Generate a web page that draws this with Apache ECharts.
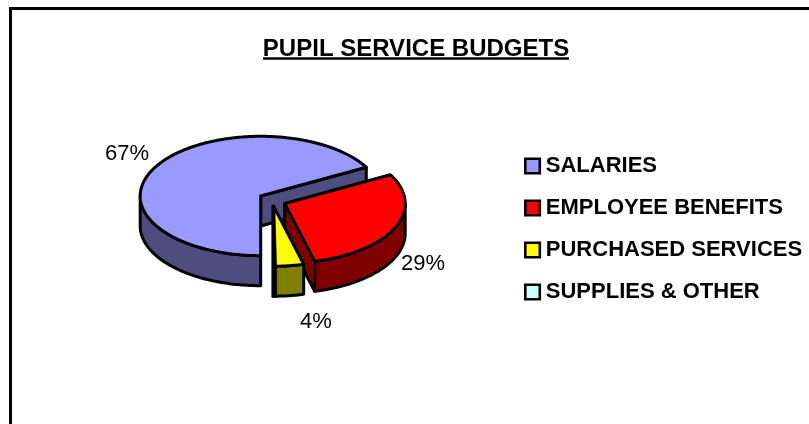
<!DOCTYPE html>
<html><head><meta charset="utf-8">
<style>html,body{margin:0;padding:0;background:#fff}#c{width:809px;height:424px}</style>
<script src="https://cdn.jsdelivr.net/npm/echarts@6/dist/echarts.min.js"></script>
</head><body><div id="c"></div>
<script>
const titleText = 'PUPIL SERVICE BUDGETS';
const categories = ['SALARIES', 'EMPLOYEE BENEFITS', 'PURCHASED SERVICES', 'SUPPLIES & OTHER'];
const values = [67, 29, 4, 0];
const topColors = ['#9999FF', '#FF0000', '#FFFF00', '#CCFFFF'];
const wallColors = ['#4D4D80', '#800000', '#808000', '#668080'];
const explodeX = [0, 24, 13, 0];
const explodeY = [0, 7.5, 10.5, 0];
const labelX = [127, 423, 316, 0];
const labelY = [153.5, 263.5, 321.5, 0];

const cx = 260.7, cy = 196, rx = 120.5, ry = 59.7, depth = 30, startDeg = 180, lw = 3;
const total = values.reduce((a, b) => a + b, 0);

function pt(ox, oy, deg, dy) {
  const a = deg * Math.PI / 180;
  return [ox + rx * Math.sin(a), oy - ry * Math.cos(a) + (dy || 0)];
}
function arcPts(ox, oy, d0, d1, dy) {
  const pts = [], n = Math.max(2, Math.ceil(Math.abs(d1 - d0)));
  for (let i = 0; i <= n; i++) pts.push(pt(ox, oy, d0 + (d1 - d0) * i / n, dy));
  return pts;
}
function poly(points, fill, z) {
  return { type: 'polygon', z2: z, shape: { points },
    style: { fill, stroke: '#000', lineWidth: lw, lineJoin: 'round' } };
}
function sliceRender(idx) {
  return function (params, api) {
    const v = api.value(0);
    if (!v) return { type: 'group', children: [] };
    let before = 0;
    for (let i = 0; i < idx; i++) before += values[i];
    const d0 = startDeg + before / total * 360;
    const d1 = d0 + v / total * 360;
    const ox = cx + explodeX[idx], oy = cy + explodeY[idx];
    const kids = [];
    const apex = [ox, oy], apexD = [ox, oy + depth];
    const endNorm = ((d1 % 360) + 360) % 360;
    // inner face on the clockwise end of the slice, when it faces the viewer
    if (endNorm > 0 && endNorm < 180) {
      kids.push(poly([apex, pt(ox, oy, d1), pt(ox, oy, d1, depth), apexD], wallColors[idx], 1));
    }
    // outer wall: only the part that faces the viewer
    for (const off of [0, 360]) {
      const a0 = Math.max(d0, 90 + off), a1 = Math.min(d1, 270 + off);
      if (a1 > a0) {
        kids.push(poly(arcPts(ox, oy, a0, a1, 0).concat(arcPts(ox, oy, a1, a0, depth)), wallColors[idx], 2));
      }
    }
    // top face
    kids.push(poly([apex].concat(arcPts(ox, oy, d0, d1, 0)), topColors[idx], 3));
    // inner face that ends at the front of the ellipse is seen almost edge-on, as a black strip
    if (Math.abs(endNorm - 180) < 0.01 && idx > 0) {
      const b = pt(ox, oy, d1, depth);
      kids.push({ type: 'polygon', z2: 4, shape: { points: [
        [ox - 2, oy - 1.5], [ox + 1, oy - 1.5], [b[0] + 3, b[1] - depth], [b[0] + 3, b[1] + 1], [b[0] - 2, b[1] + 1]] },
        style: { fill: '#000', stroke: '#000', lineWidth: 0.5 } });
    }
    kids.push({ type: 'text', z2: 5, x: labelX[idx], y: labelY[idx],
      style: { text: Math.round(v / total * 100) + '%', fill: '#000', align: 'center', verticalAlign: 'middle',
        font: '22px "Liberation Sans", Arial, sans-serif' } });
    return { type: 'group', children: kids };
  };
}

const chart = echarts.init(document.getElementById('c'), null, { renderer: 'canvas' });
chart.setOption({
  animation: false,
  backgroundColor: '#fff',
  title: { text: titleText, left: 411, top: 32, textAlign: 'center',
    textStyle: { fontFamily: '"Liberation Sans", Arial, sans-serif', fontSize: 24, fontWeight: 'bold', color: '#000' } },
  legend: { left: 519, top: 150, orient: 'vertical', itemWidth: 14.5, itemHeight: 14.5, itemGap: 20, icon: 'rect',
    data: categories, selectedMode: false,
    itemStyle: { borderColor: '#000', borderWidth: 2.6 },
    textStyle: { fontFamily: '"Liberation Sans", Arial, sans-serif', fontSize: 22, fontWeight: 'bold', color: '#000', padding: [0, 0, 0, 1] } },
  graphic: [
    { type: 'rect', silent: true, z: -1, shape: { x: 10.5, y: 8.5, width: 900, height: 600 }, style: { fill: '#fff', stroke: '#000', lineWidth: 3 } },
    { type: 'line', silent: true, shape: { x1: 263, y1: 58.5, x2: 569, y2: 58.5 }, style: { stroke: '#000', lineWidth: 2.5 } }
  ],
  series: categories.map((name, i) => ({
    type: 'custom', name, coordinateSystem: 'none', z: 2 + i, itemStyle: { color: topColors[i] },
    renderItem: sliceRender(i), data: [[values[i]]], silent: true
  }))
});
</script></body></html>
